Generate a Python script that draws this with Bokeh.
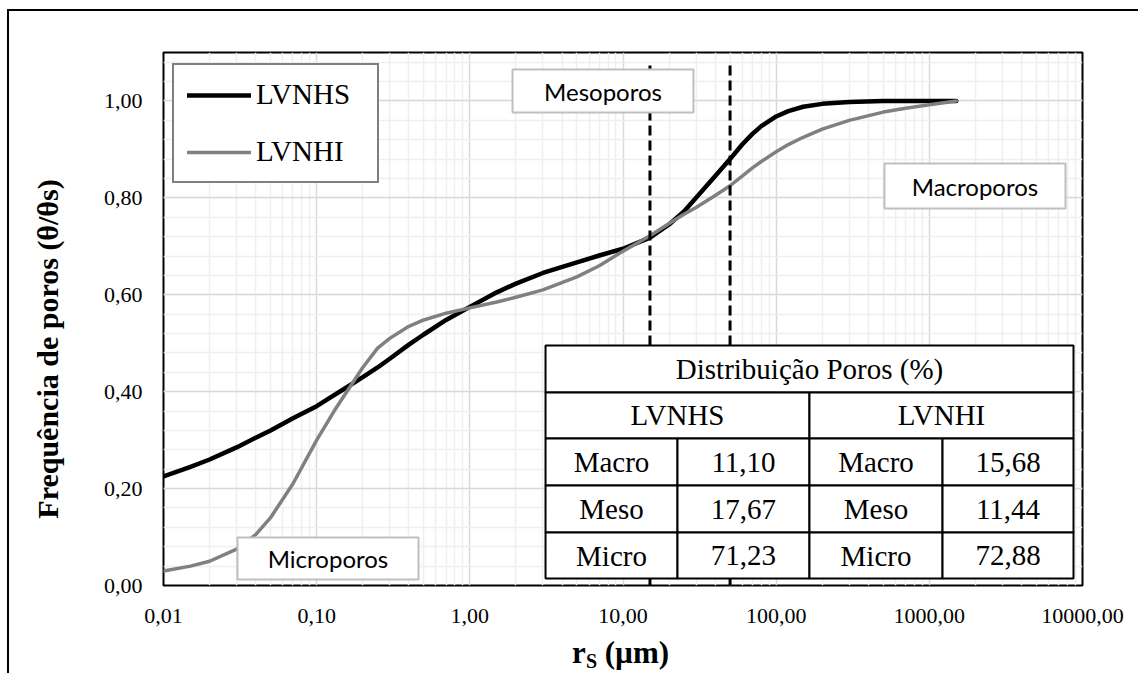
import math
from bokeh.plotting import figure
from bokeh.models import (Range1d, FixedTicker, CustomJSTickFormatter, Legend,
                          LegendItem, Label)
from bokeh.embed import file_html
from bokeh.resources import INLINE
from bokeh.core.properties import value

# ---------------- data ----------------
r_um = [0.01, 0.015, 0.02, 0.03, 0.04, 0.05, 0.07, 0.1, 0.13, 0.15, 0.2, 0.25,
        0.3, 0.4, 0.5, 0.7, 1, 1.5, 2, 3, 5, 7, 10, 15, 20, 25, 30, 40, 50, 60,
        70, 80, 100, 120, 150, 200, 300, 500, 700, 1000, 1500]
lvnhs = [0.225, 0.245, 0.26, 0.285, 0.305, 0.32, 0.345, 0.37, 0.393, 0.405,
         0.43, 0.45, 0.468, 0.497, 0.518, 0.548, 0.575, 0.605, 0.623, 0.645,
         0.667, 0.681, 0.695, 0.718, 0.745, 0.772, 0.80, 0.845, 0.88, 0.91,
         0.932, 0.948, 0.968, 0.979, 0.988, 0.994, 0.998, 1.0, 1.0, 1.0, 1.0]
lvnhi = [0.03, 0.04, 0.05, 0.075, 0.105, 0.14, 0.21, 0.30, 0.36, 0.39, 0.45,
         0.49, 0.51, 0.535, 0.548, 0.562, 0.573, 0.585, 0.595, 0.61, 0.637,
         0.66, 0.69, 0.722, 0.747, 0.766, 0.78, 0.805, 0.825, 0.845, 0.862,
         0.875, 0.895, 0.91, 0.925, 0.942, 0.96, 0.977, 0.985, 0.992, 1.0]
series_names = ["LVNHS", "LVNHI"]
pore_limits_um = [15, 50]          # micro/meso and meso/macro limits
region_labels = ["Mesoporos", "Macroporos", "Microporos"]

x_ticks = [0.01, 0.1, 1, 10, 100, 1000, 10000]
y_ticks = [0.0, 0.2, 0.4, 0.6, 0.8, 1.0]

table_title = "Distribuição Poros (%)"
pore_classes = ["Macro", "Meso", "Micro"]
lvnhs_pct = [11.10, 17.67, 71.23]
lvnhi_pct = [15.68, 11.44, 72.88]

# ---------------- layout ----------------
X_MIN, X_MAX = 0.01, 10000
Y_MIN, Y_MAX = 0.0, 1.1
SERIF = "Liberation Serif"


def fx(f):
    """fraction of the frame width -> data x (log axis)"""
    a, b = math.log10(X_MIN), math.log10(X_MAX)
    return 10 ** (a + f * (b - a))


def fy(f):
    """fraction of the frame height -> data y"""
    return Y_MIN + f * (Y_MAX - Y_MIN)


def fmt(v):
    return f"{v:.2f}".replace(".", ",")


p = figure(x_axis_type="log", x_range=Range1d(X_MIN, X_MAX),
           y_range=Range1d(Y_MIN, Y_MAX),
           frame_width=919, frame_height=533,
           min_border_left=154, min_border_right=56,
           min_border_top=41, min_border_bottom=87,
           output_backend="svg", toolbar_location=None)
p.styles = {"border-left": "2px solid black", "border-top": "2px solid black",
            "margin-left": "7px", "margin-top": "9px"}
p.background_fill_color = "white"
p.border_fill_color = "white"
p.outline_line_color = "black"
p.outline_line_width = 2
p.outline_line_alpha = 1

minor_x = [k * 10 ** d for d in range(-2, 4) for k in range(2, 10)]
minor_y = [round(0.04 * i, 2) for i in range(0, 28)]
p.xaxis.ticker = FixedTicker(ticks=x_ticks, minor_ticks=minor_x)
p.yaxis.ticker = FixedTicker(ticks=y_ticks, minor_ticks=minor_y)
tick_fmt = CustomJSTickFormatter(code="return tick.toFixed(2).replace('.', ',');")
p.xaxis.formatter = tick_fmt
p.yaxis.formatter = tick_fmt

for ax in (p.xaxis, p.yaxis):
    ax.axis_line_color = None
    ax.major_tick_line_color = None
    ax.minor_tick_line_color = None
    ax.major_label_text_font = SERIF
    ax.major_label_text_font_size = "22px"
    ax.major_label_text_color = "black"
p.xaxis.major_label_standoff = 17
p.yaxis.major_label_standoff = 15

p.yaxis.axis_label = "Frequência de poros (θ/θs)" + "\u00a0" * 8
p.yaxis.axis_label_text_font = SERIF
p.yaxis.axis_label_text_font_style = "bold"
p.yaxis.axis_label_text_font_size = "30px"
p.yaxis.axis_label_text_color = "black"
p.yaxis.axis_label_standoff = 37

for g in (p.xgrid, p.ygrid):
    g.grid_line_color = "#d9d9d9"
    g.grid_line_width = 1.5
    g.minor_grid_line_color = "#efefef"
    g.minor_grid_line_width = 1.5

# curves
r1 = p.line(r_um, lvnhs, line_color="black", line_width=4.5, line_cap="round",
            line_join="round")
r2 = p.line(r_um, lvnhi, line_color="#808080", line_width=3.5, line_cap="round",
            line_join="round")

# pore class limits
p.segment(x0=pore_limits_um, x1=pore_limits_um, y0=[Y_MIN] * 2,
          y1=[fy(0.985)] * 2, line_color="black", line_width=3,
          line_dash="10 5")

# region label boxes  (left, right, bottom, top as frame fractions)
box_geom = [(0.3798, 0.5767, 0.8874, 0.9681),
            (0.7845, 0.9815, 0.7073, 0.7917),
            (0.0805, 0.2775, 0.0113, 0.0901)]
p.quad(left=[fx(g[0]) for g in box_geom], right=[fx(g[1]) for g in box_geom],
       bottom=[fy(g[2]) for g in box_geom], top=[fy(g[3]) for g in box_geom],
       fill_color="white", line_color="#bfbfbf", line_width=2)
p.text(x=[fx((g[0] + g[1]) / 2) for g in box_geom],
       y=[fy((g[2] + g[3]) / 2) for g in box_geom],
       text=region_labels, text_align="center", text_baseline="middle",
       text_font=value("Lato"), text_font_size="24px", text_color="black")

# table
tx = [0.4157, 0.5593, 0.7029, 0.8477, 0.9902]
ty = [0.0131, 0.0994, 0.1876, 0.2758, 0.3621, 0.4503]
cells = [(0, 4, 4, 5, table_title),
         (0, 2, 3, 4, series_names[0]),
         (2, 4, 3, 4, series_names[1])]
for i, cls in enumerate(pore_classes):
    row = 2 - i
    cells.append((0, 1, row, row + 1, cls))
    cells.append((1, 2, row, row + 1, fmt(lvnhs_pct[i])))
    cells.append((2, 3, row, row + 1, cls))
    cells.append((3, 4, row, row + 1, fmt(lvnhi_pct[i])))
p.quad(left=[fx(tx[c[0]]) for c in cells], right=[fx(tx[c[1]]) for c in cells],
       bottom=[fy(ty[c[2]]) for c in cells], top=[fy(ty[c[3]]) for c in cells],
       fill_color="white", line_color="black", line_width=2)
p.text(x=[fx((tx[c[0]] + tx[c[1]]) / 2) for c in cells],
       y=[fy((ty[c[2]] + ty[c[3]]) / 2) for c in cells],
       text=[c[4] for c in cells], text_align="center", text_baseline="middle",
       text_font=value(SERIF), text_font_size="29px", text_color="black")

# x axis title with subscript (placed in the bottom panel so it is not clipped)
xt_x = fx(0.5)
for txt, dx, fyv, size in [("r", -51, -0.1255, "31px"),
                           ("S", -37, -0.141, "20px"),
                           ("\u00a0(µm)", -26, -0.1255, "31px")]:
    p.add_layout(Label(x=xt_x, y=fy(fyv), x_offset=dx, text=txt,
                       text_font=SERIF, text_font_style="bold",
                       text_font_size=size, text_color="black",
                       text_align="left", text_baseline="alphabetic"), "below")

legend = Legend(items=[LegendItem(label=series_names[0], renderers=[r1]),
                       LegendItem(label=series_names[1], renderers=[r2])],
                location=(9, 402), padding=13, spacing=24, label_height=30,
                glyph_width=64, glyph_height=30, label_standoff=5,
                label_width=108, margin=0,
                border_line_color="black", border_line_width=2,
                background_fill_color="white", background_fill_alpha=1,
                label_text_font=SERIF, label_text_font_size="29px",
                label_text_color="black")
p.add_layout(legend)

open("out.html", "w").write(file_html(p, INLINE))
